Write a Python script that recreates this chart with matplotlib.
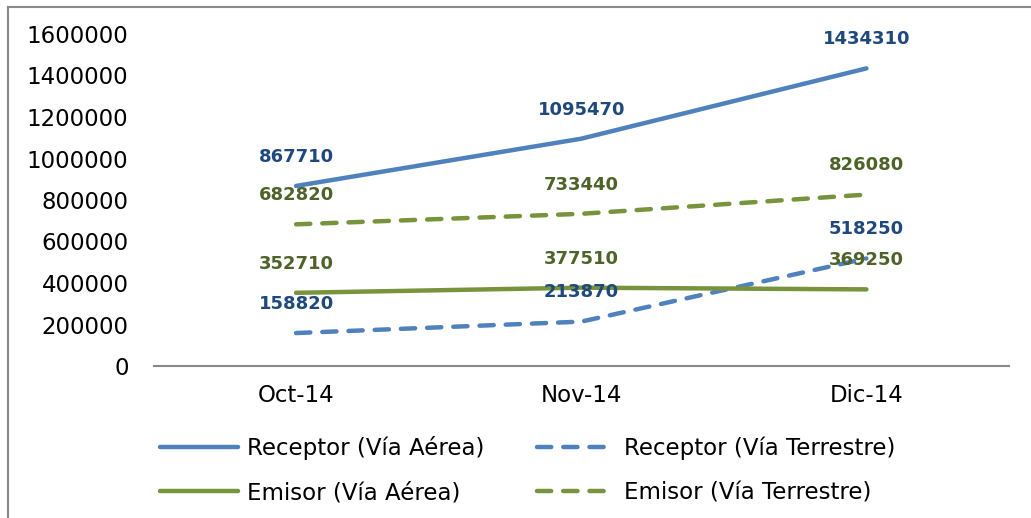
import matplotlib
matplotlib.use("Agg")
import matplotlib.pyplot as plt
from matplotlib.lines import Line2D

categories = ["Oct-14", "Nov-14", "Dic-14"]
receptor_aerea = [867710, 1095470, 1434310]
receptor_terrestre = [158820, 213870, 518250]
emisor_aerea = [352710, 377510, 369250]
emisor_terrestre = [682820, 733440, 826080]
y_ticks = [0, 200000, 400000, 600000, 800000, 1000000, 1200000, 1400000, 1600000]

BLUE = "#4F81BD"
GREEN = "#77933C"
DBLUE = "#1F497D"
DGREEN = "#4F6228"
DASH = (0, (3.2, 2.7))

W, H = 1031, 518
fig = plt.figure(figsize=(W / 100, H / 100), dpi=100)
ax = fig.add_axes([153.5 / W, 1 - 366 / H, (1009 - 153.5) / W, (366 - 34) / H])

x = list(range(len(categories)))
series = [
    ("Receptor (Vía Aérea)", receptor_aerea, BLUE, "-", DBLUE),
    ("Receptor (Vía Terrestre)", receptor_terrestre, BLUE, DASH, DBLUE),
    ("Emisor (Vía Aérea)", emisor_aerea, GREEN, "-", DGREEN),
    ("Emisor (Vía Terrestre)", emisor_terrestre, GREEN, DASH, DGREEN),
]
for name, vals, col, ls, lcol in series:
    ax.plot(x, vals, color=col, linestyle=ls, linewidth=3.2, solid_capstyle="round",
            dash_capstyle="round", label=name)
    for xi, v in zip(x, vals):
        ax.annotate(f"{v}", (xi, v), xytext=(0, 14.5), textcoords="offset points",
                    ha="center", va="bottom", fontsize=13, fontweight="bold",
                    color=lcol, family="DejaVu Sans")

ax.set_xlim(-0.5, 2.5)
ax.set_ylim(0, 1600000)
ax.set_xticks(x)
ax.set_xticklabels(categories, fontsize=16.5, family="DejaVu Sans")
ax.set_yticks(y_ticks)
ax.set_yticklabels([str(v) for v in y_ticks], fontsize=16.5, family="DejaVu Sans")
ax.tick_params(axis="both", length=0)
ax.tick_params(axis="x", pad=13)
ax.tick_params(axis="y", pad=18)
for s in ["top", "right", "left"]:
    ax.spines[s].set_visible(False)
ax.spines["bottom"].set_color("#898989")
ax.spines["bottom"].set_linewidth(1.5)

# legend order: row 1 Receptor, row 2 Emisor (matplotlib fills column-wise)
order = [0, 2, 1, 3]
handles = [Line2D([0], [0], color=series[i][2], linestyle=series[i][3], linewidth=3.2,
                  solid_capstyle="round", dash_capstyle="round") for i in order]
labels = [series[i][0] for i in order]
leg = fig.legend(handles, labels, loc="center", ncol=2, frameon=False,
                 bbox_to_anchor=(528 / W, 1 - 470 / H),
                 prop={"family": "DejaVu Sans", "size": 16.5}, handlelength=3.4,
                 columnspacing=2.3, labelspacing=0.95, handletextpad=0.4)

# chart frame (top and left borders visible)
fig.add_artist(Line2D([8 / W, 1], [1 - 7 / H, 1 - 7 / H], color="#898989", linewidth=1.5))
fig.add_artist(Line2D([8 / W, 8 / W], [0, 1 - 7 / H], color="#898989", linewidth=1.5))

fig.savefig("out.png", dpi=100)
